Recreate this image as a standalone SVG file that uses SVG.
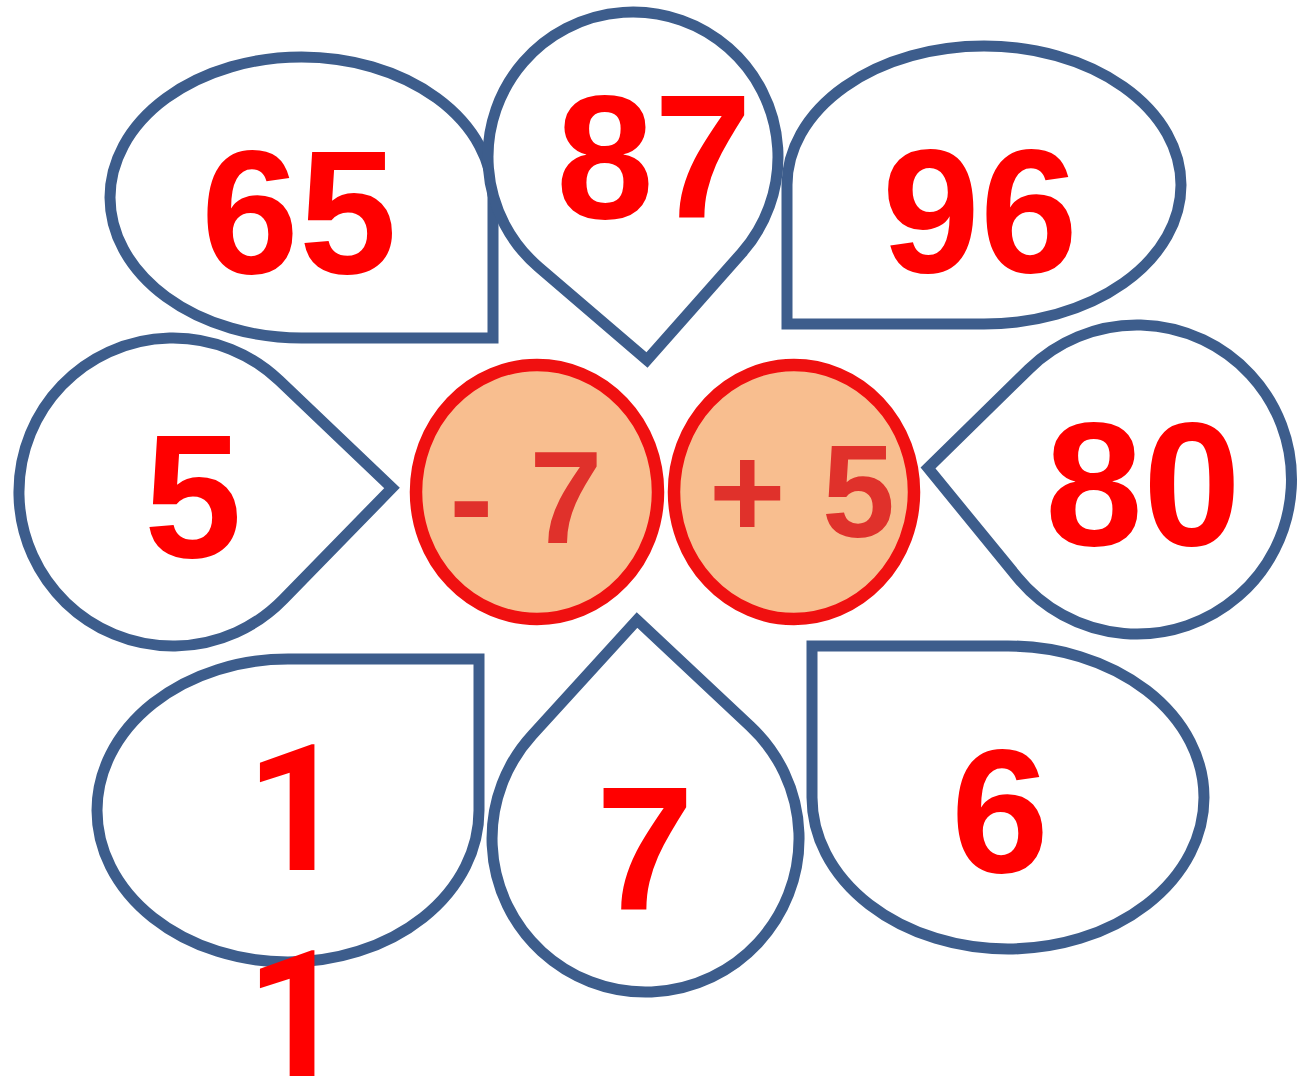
<svg xmlns="http://www.w3.org/2000/svg" width="1297" height="1081" viewBox="0 0 1297 1081">
<style>
.petal{fill:#ffffff;stroke:#3D5D8C;stroke-width:11;stroke-linejoin:miter}
.num{font-family:"Liberation Sans",Arial,sans-serif;font-weight:bold;font-size:176px;fill:#FF0000;text-anchor:middle}
.one{font-family:Roboto,"Liberation Sans",Arial,sans-serif;font-weight:700}
.op{fill:#F8BE8F;stroke:#F01010;stroke-width:12.5}
.opt{font-family:"Liberation Sans",Arial,sans-serif;font-weight:bold;font-size:131px;fill:#E0312B;text-anchor:middle}
</style>
<rect width="1297" height="1081" fill="#ffffff"/>
<g id="petal-65">
<path class="petal" d="M 301.5 338 A 191.5 140.5 0 1 1 493 197.5 L 493 338 Z"/>
<text class="num" x="299" y="273">65</text>
</g>
<g id="petal-87">
<path class="petal" d="M 647 360 L 538.6 267.1 A 145 145 0 1 1 741.6 253.1 Z"/>
<text class="num" x="654" y="218">87</text>
</g>
<g id="petal-96">
<path class="petal" d="M 787 185 A 197 139 0 1 1 984 324 L 787 324 Z"/>
<text class="num" x="980" y="272">96</text>
</g>
<g id="petal-5">
<path class="petal" d="M 392 488 L 283.3 599.4 A 154 154 0 1 1 279.3 380.6 Z"/>
<text class="num" x="193" y="557">5</text>
</g>
<g id="petal-80">
<path class="petal" d="M 928 468 L 1028.8 369.2 A 154.5 154.5 0 1 1 1017.3 577.2 Z"/>
<text class="num" x="1143" y="545">80</text>
</g>
<g id="petal-11">
<path class="petal" d="M 288 659 A 191 151.5 0 1 0 479 810.5 L 479 659 Z"/>
<text class="num one" x="296" y="870"><tspan x="296" y="870">1</tspan><tspan x="296" y="1076">1</tspan></text>
</g>
<g id="petal-7">
<path class="petal" d="M 637 620 L 750.5 726.5 A 153.5 153.5 0 1 1 532.1 735.1 Z"/>
<text class="num" x="645" y="910">7</text>
</g>
<g id="petal-6">
<path class="petal" d="M 1008 646 A 196 151.5 0 1 1 812 797.5 L 812 646 Z"/>
<text class="num" x="1000" y="872">6</text>
</g>
<g id="op-minus7">
<ellipse class="op" cx="537" cy="492" rx="121" ry="127"/>
<text class="opt" x="526" y="543">- 7</text>
</g>
<g id="op-plus5">
<ellipse class="op" cx="794" cy="492" rx="120" ry="127"/>
<text class="opt" x="802" y="537">+ 5</text>
</g>
<g id="connectors"></g>
</svg>
